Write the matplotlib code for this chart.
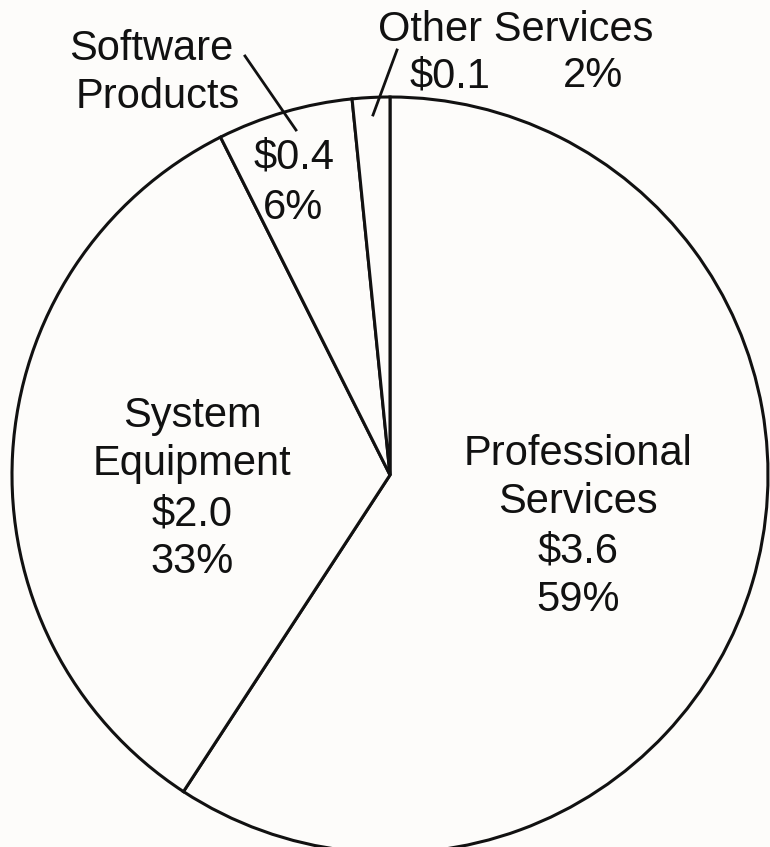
import matplotlib
matplotlib.use("Agg")
import matplotlib.pyplot as plt

# ---- data ----
categories = ["Professional Services", "System Equipment", "Software Products", "Other Services"]
dollars = ["$3.6", "$2.0", "$0.4", "$0.1"]
pct_labels = ["59%", "33%", "6%", "2%"]
shares = [59.2, 33.4, 5.8, 1.6]   # wedge shares as measured

W, H = 770, 847
fig = plt.figure(figsize=(W / 100, H / 100), dpi=100)
bg = "#fdfcfa"
fig.patch.set_facecolor(bg)
ax = fig.add_axes([0, 0, 1, 1])
ax.set_facecolor(bg)
ax.set_xlim(0, W)
ax.set_ylim(0, H)
ax.set_aspect("equal")
ax.axis("off")

cx, cy, r = 390, H - 475, 378
ax.pie(shares, startangle=90, counterclock=False, center=(cx, cy), radius=r,
       colors=[bg] * 4,
       wedgeprops=dict(edgecolor="#111111", linewidth=2.2), frame=True)
ax.set_xlim(0, W)
ax.set_ylim(0, H)
ax.axis("off")

font = dict(family=["Liberation Sans", "DejaVu Sans"], fontsize=30, color="#111111",
            ha="center", va="center")

def put(x, y, s):
    ax.text(x, H - y, s, **font)

# Professional Services
for y, s in zip([454, 502, 551, 600], ["Professional", "Services", dollars[0], pct_labels[0]]):
    put(578, y, s)
# System Equipment
for y, s in zip([416, 464, 514, 562], ["System", "Equipment", dollars[1], pct_labels[1]]):
    put(192, y, s)
# Software Products
put(151, 49, "Software")
put(158, 97, "Products")
put(294, 157, dollars[2])
put(293, 208, pct_labels[2])
# Other Services
put(516, 30, "Other Services")
put(450, 76, dollars[3])
put(593, 76, pct_labels[3])

# leader lines
ax.plot([245, 296], [H - 56, H - 130], color="#111111", lw=2.0)
ax.plot([397, 373], [H - 50, H - 115], color="#111111", lw=2.0)

fig.savefig("out.png", dpi=100, facecolor=bg)
